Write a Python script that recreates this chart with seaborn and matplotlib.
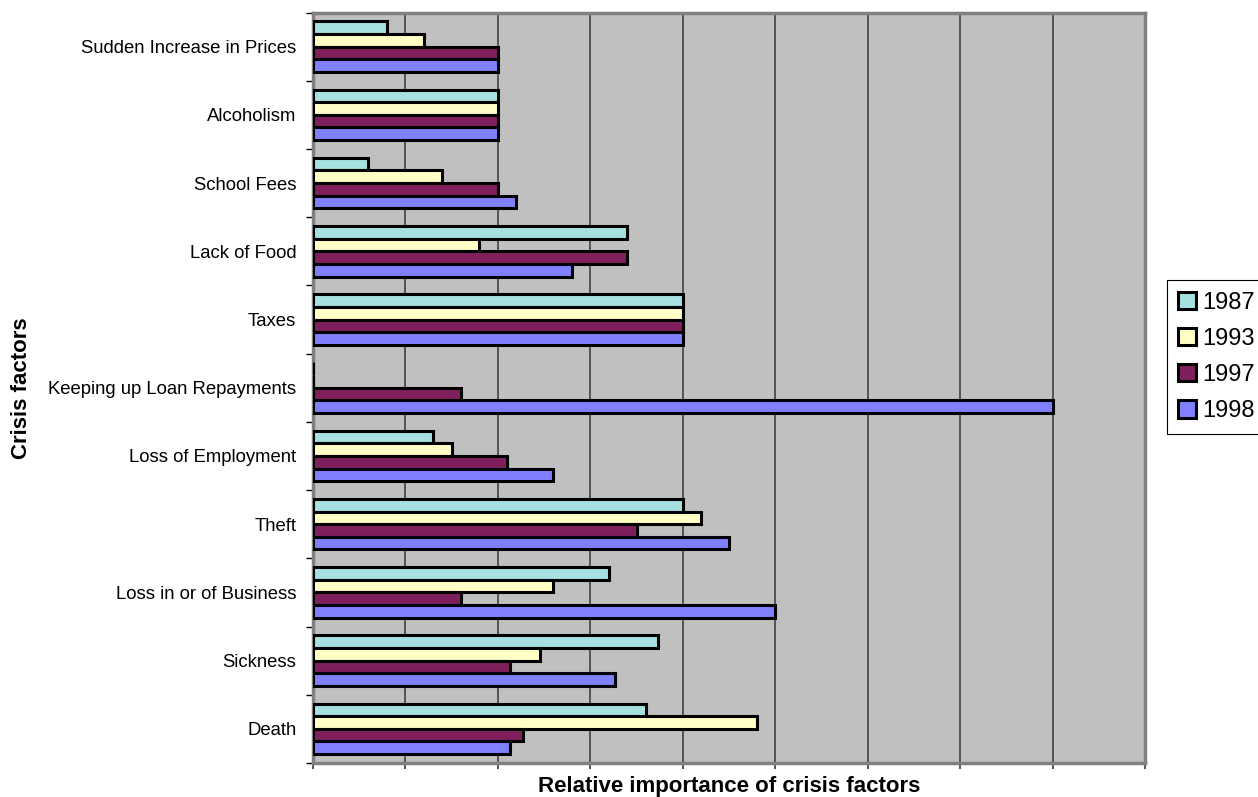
import matplotlib.pyplot as plt
import numpy as np
import pandas as pd
import seaborn as sns
from matplotlib.ticker import FixedLocator, MultipleLocator

FACTORS = [
    'Sudden Increase in Prices',
    'Alcoholism',
    'School Fees',
    'Lack of Food',
    'Taxes',
    'Keeping up Loan Repayments',
    'Loss of Employment',
    'Theft',
    'Loss in or of Business',
    'Sickness',
    'Death',
]
YEARS = ['1987', '1993', '1997', '1998']

VALUES_1987 = [0.8, 2.0, 0.6, 3.4, 4.0, 0.0, 1.3, 4.0, 3.2, 3.73, 3.6]
VALUES_1993 = [1.2, 2.0, 1.4, 1.8, 4.0, 0.0, 1.5, 4.2, 2.6, 2.46, 4.8]
VALUES_1997 = [2.0, 2.0, 2.0, 3.4, 4.0, 1.6, 2.1, 3.5, 1.6, 2.13, 2.27]
VALUES_1998 = [2.0, 2.0, 2.2, 2.8, 4.0, 8.0, 2.6, 4.5, 5.0, 3.27, 2.13]

COLORS = ['#A6E0E0', '#FFFFC6', '#7F1F5C', '#8080FF']


def main():
    sns.set_theme(style='white')
    plt.rcParams['font.family'] = ['Liberation Sans', 'DejaVu Sans']
    plt.rcParams['text.color'] = 'black'
    plt.rcParams['axes.labelcolor'] = 'black'
    plt.rcParams['ytick.color'] = 'black'
    plt.rcParams['xtick.color'] = 'black'

    df = pd.DataFrame({
        'factor': FACTORS * 4,
        'year': np.repeat(YEARS, len(FACTORS)),
        'value': VALUES_1987 + VALUES_1993 + VALUES_1997 + VALUES_1998,
    })

    fig = plt.figure(figsize=(12.58, 7.97), dpi=100)
    ax = fig.add_axes([0.2488, 0.0427, 0.6614, 0.9416])
    ax.set_facecolor('#C0C0C0')

    sns.barplot(
        data=df, x='value', y='factor', hue='year', orient='h',
        order=FACTORS, hue_order=YEARS, palette=COLORS, saturation=1,
        width=0.74, edgecolor='black', linewidth=2.2, ax=ax, zorder=3,
    )

    ax.set_xlim(0, 9)
    ax.set_ylim(len(FACTORS) - 0.5, -0.5)
    ax.xaxis.set_major_locator(MultipleLocator(1))
    ax.grid(axis='x', color='#404040', linewidth=1.2, zorder=1)
    ax.set_axisbelow(True)
    ax.set_xticklabels([])
    ax.tick_params(axis='x', bottom=True, length=4, color='#404040')

    ax.tick_params(axis='y', which='major', length=0, labelsize=13.3, pad=12)
    ax.yaxis.set_minor_locator(FixedLocator(np.arange(-0.5, len(FACTORS), 1.0)))
    ax.tick_params(axis='y', which='minor', left=True, length=5, color='black')

    for spine in ax.spines.values():
        spine.set_color('#808080')
        spine.set_linewidth(2.5)

    ax.set_xlabel('Relative importance of crisis factors', fontsize=16, fontweight='bold')
    ax.xaxis.set_label_coords(0.5, -0.018)
    ax.set_ylabel('Crisis factors', fontsize=16, fontweight='bold')
    ax.yaxis.set_label_coords(-0.338, 0.5)

    ax.legend(
        loc='center left', bbox_to_anchor=(1.026, 0.541), fontsize=17,
        frameon=True, fancybox=False, edgecolor='black', framealpha=1,
        handlelength=0.75, handleheight=0.75, handletextpad=0.25,
        labelspacing=0.6, borderpad=0.5, borderaxespad=0,
    ).get_frame().set_linewidth(0.8)

    fig.savefig('out.png', dpi=100)
    plt.close(fig)


if __name__ == '__main__':
    main()
